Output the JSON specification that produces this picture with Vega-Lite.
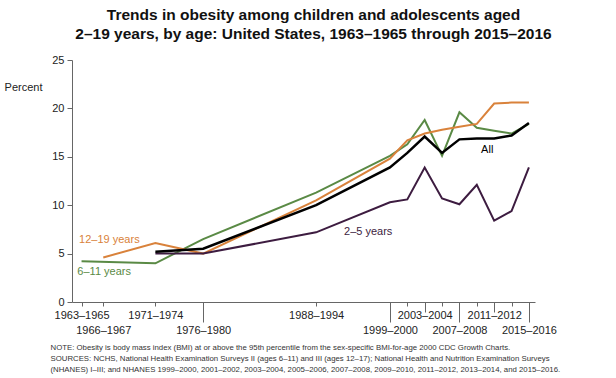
{
  "$schema": "https://vega.github.io/schema/vega-lite/v6.json",
  "width": 463,
  "height": 242,
  "autosize": {"type": "none"},
  "padding": {"left": 72, "top": 60, "right": 81, "bottom": 76},
  "background": "white",
  "config": {"view": {"stroke": null}, "font": "Liberation Sans", "axis": {"labelOverlap": false}},
  "title": {
    "text": ["Trends in obesity among children and adolescents aged", "2–19 years, by age: United States, 1963–1965 through 2015–2016"],
    "fontSize": 15.5,
    "fontWeight": "bold",
    "font": "Liberation Sans",
    "color": "#111111",
    "lineHeight": 19,
    "offset": 12,
    "dx": 10,
    "anchor": "middle"
  },
  "datasets": {
    "series": [
      {"series": "6–11 years", "year": 1964, "value": 4.2},
      {"series": "6–11 years", "year": 1972.5, "value": 4.0},
      {"series": "6–11 years", "year": 1978, "value": 6.5},
      {"series": "6–11 years", "year": 1991, "value": 11.3},
      {"series": "6–11 years", "year": 1999.5, "value": 15.1},
      {"series": "6–11 years", "year": 2001.5, "value": 16.3},
      {"series": "6–11 years", "year": 2003.5, "value": 18.8},
      {"series": "6–11 years", "year": 2005.5, "value": 15.1},
      {"series": "6–11 years", "year": 2007.5, "value": 19.6},
      {"series": "6–11 years", "year": 2009.5, "value": 18.0},
      {"series": "6–11 years", "year": 2011.5, "value": 17.7},
      {"series": "6–11 years", "year": 2013.5, "value": 17.4},
      {"series": "6–11 years", "year": 2015.5, "value": 18.4},
      {"series": "12–19 years", "year": 1966.5, "value": 4.6},
      {"series": "12–19 years", "year": 1972.5, "value": 6.1},
      {"series": "12–19 years", "year": 1978, "value": 5.0},
      {"series": "12–19 years", "year": 1991, "value": 10.5},
      {"series": "12–19 years", "year": 1999.5, "value": 14.8},
      {"series": "12–19 years", "year": 2001.5, "value": 16.7},
      {"series": "12–19 years", "year": 2003.5, "value": 17.4},
      {"series": "12–19 years", "year": 2005.5, "value": 17.8},
      {"series": "12–19 years", "year": 2007.5, "value": 18.1},
      {"series": "12–19 years", "year": 2009.5, "value": 18.4},
      {"series": "12–19 years", "year": 2011.5, "value": 20.5},
      {"series": "12–19 years", "year": 2013.5, "value": 20.6},
      {"series": "12–19 years", "year": 2015.5, "value": 20.6},
      {"series": "2–5 years", "year": 1972.5, "value": 5.0},
      {"series": "2–5 years", "year": 1978, "value": 5.0},
      {"series": "2–5 years", "year": 1991, "value": 7.2},
      {"series": "2–5 years", "year": 1999.5, "value": 10.3},
      {"series": "2–5 years", "year": 2001.5, "value": 10.6},
      {"series": "2–5 years", "year": 2003.5, "value": 13.9},
      {"series": "2–5 years", "year": 2005.5, "value": 10.7},
      {"series": "2–5 years", "year": 2007.5, "value": 10.1},
      {"series": "2–5 years", "year": 2009.5, "value": 12.1},
      {"series": "2–5 years", "year": 2011.5, "value": 8.4},
      {"series": "2–5 years", "year": 2013.5, "value": 9.4},
      {"series": "2–5 years", "year": 2015.5, "value": 13.9},
      {"series": "All", "year": 1972.5, "value": 5.2},
      {"series": "All", "year": 1978, "value": 5.5},
      {"series": "All", "year": 1991, "value": 10.0},
      {"series": "All", "year": 1999.5, "value": 13.9},
      {"series": "All", "year": 2001.5, "value": 15.4},
      {"series": "All", "year": 2003.5, "value": 17.1},
      {"series": "All", "year": 2005.5, "value": 15.4},
      {"series": "All", "year": 2007.5, "value": 16.8},
      {"series": "All", "year": 2009.5, "value": 16.9},
      {"series": "All", "year": 2011.5, "value": 16.9},
      {"series": "All", "year": 2013.5, "value": 17.2},
      {"series": "All", "year": 2015.5, "value": 18.5}
    ],
    "labels": [
      {"series": "12–19 years", "year": 1967.2, "value": 6.4, "label": "12–19 years"},
      {"series": "6–11 years", "year": 1966.6, "value": 3.1, "label": "6–11 years"},
      {"series": "2–5 years", "year": 1997.0, "value": 7.25, "label": "2–5 years"},
      {"series": "All", "year": 2010.7, "value": 15.7, "label": "All"}
    ]
  },
  "encoding": {
    "x": {
      "field": "year",
      "type": "quantitative",
      "scale": {"domain": [1962.9, 2016.2], "nice": false, "zero": false},
      "axis": {
        "values": [1964, 1966.5, 1972.5, 1978, 1991, 1999.5, 2001.5, 2003.5, 2005.5, 2007.5, 2009.5, 2011.5, 2013.5, 2015.5],
        "labelExpr": "['1963–1965','1966–1967','1971–1974','1976–1980','1988–1994','1999–2000','','2003–2004','','2007–2008','','2011–2012','','2015–2016'][indexof([1964,1966.5,1972.5,1978,1991,1999.5,2001.5,2003.5,2005.5,2007.5,2009.5,2011.5,2013.5,2015.5], datum.value)]",
        "grid": false,
        "labelOverlap": false,
        "labelFlush": false,
        "labelBound": false,
        "labelFontSize": 11,
        "labelColor": "#222222",
        "labelBaseline": "top",
        "domainColor": "#666666",
        "tickColor": "#666666",
        "tickSize": {"condition": [
          {"test": "indexof([1978,1999.5,2007.5,2015.5], datum.value) >= 0", "value": 20},
          {"test": "indexof([2003.5,2011.5], datum.value) >= 0", "value": 10}
        ], "value": 4},
        "labelPadding": {"condition": [
          {"test": "indexof([1978,1999.5,2007.5,2015.5], datum.value) >= 0", "value": 2},
          {"test": "datum.value === 1966.5", "value": 18},
          {"test": "indexof([2003.5,2011.5], datum.value) >= 0", "value": -3}
        ], "value": 3},
        "title": [
          "NOTE: Obesity is body mass index (BMI) at or above the 95th percentile from the sex-specific BMI-for-age 2000 CDC Growth Charts.",
          "SOURCES: NCHS, National Health Examination Surveys II (ages 6–11) and III (ages 12–17); National Health and Nutrition Examination Surveys",
          "(NHANES) I–III; and NHANES 1999–2000, 2001–2002, 2003–2004, 2005–2006, 2007–2008, 2009–2010, 2011–2012, 2013–2014, and 2015–2016."
        ],
        "titleFontSize": 7.8,
        "titleFontWeight": "normal",
        "titleColor": "#333333",
        "titleAnchor": "start",
        "titleAlign": "left",
        "titleBaseline": "top",
        "titleLineHeight": 11,
        "titleX": -22,
        "titleY": 41
      }
    },
    "y": {
      "field": "value",
      "type": "quantitative",
      "scale": {"domain": [0, 25], "nice": false},
      "axis": {
        "values": [0, 5, 10, 15, 20, 25],
        "grid": false,
        "tickSize": 5,
        "labelPadding": 3,
        "labelFontSize": 11,
        "labelColor": "#222222",
        "domainColor": "#666666",
        "tickColor": "#666666",
        "title": "Percent",
        "titleAngle": 0,
        "titleX": -49,
        "titleY": 27,
        "titleAlign": "center",
        "titleBaseline": "middle",
        "titleFontWeight": "normal",
        "titleFontSize": 11,
        "titleColor": "#222222"
      }
    },
    "color": {
      "field": "series",
      "type": "nominal",
      "scale": {"domain": ["6–11 years", "12–19 years", "2–5 years", "All"], "range": ["#5a8a45", "#d9823b", "#3d1c40", "#000000"]},
      "legend": null
    }
  },
  "layer": [
    {
      "data": {"name": "series"},
      "mark": {"type": "line", "strokeJoin": "miter"},
      "encoding": {
        "strokeWidth": {"condition": {"test": "datum.series === 'All'", "value": 2.5}, "value": 2}
      }
    },
    {
      "data": {"name": "labels"},
      "mark": {"type": "text", "fontSize": 11, "align": "center", "baseline": "middle"},
      "encoding": {
        "text": {"field": "label"}
      }
    }
  ]
}
